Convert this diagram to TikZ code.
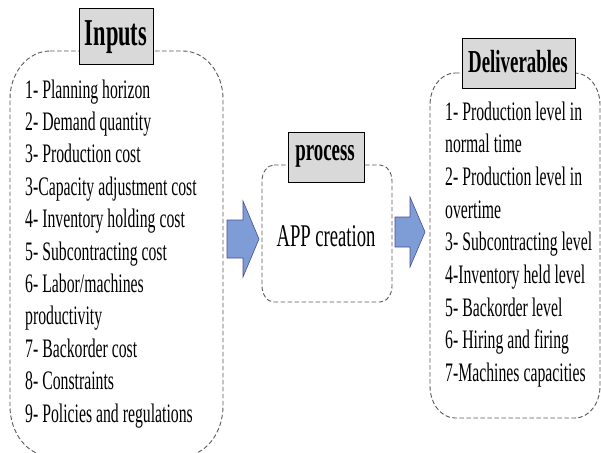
\documentclass[tikz,border=0pt]{standalone}
\usepackage{fontspec}
\setmainfont{Liberation Serif}[FakeStretch=0.59]
\begin{document}
\begin{tikzpicture}[x=1pt,y=-1pt,
  dashbox/.style={draw=black!65, line width=0.9pt, dash pattern=on 4.5pt off 2.5pt},
  labelbox/.style={draw=black, line width=0.8pt, fill=black!15, inner sep=0pt},
  bigarrow/.style={draw=blue!40!black!70, line width=0.6pt, fill=arrowblue},
  item/.style={inner sep=0pt, anchor=base west, font=\fontsize{26.7}{32}\selectfont},
  lab/.style={inner sep=0pt, font=\bfseries\fontsize{32}{34}\selectfont}]
\definecolor{arrowblue}{RGB}{126,157,214}
\useasboundingbox (0,0) rectangle (601,452);
\clip (0,0) rectangle (601,452);
% Inputs dashed box (x 10..223, y 51..456), rx 40, ry 48
\draw[dashbox] (50,51) -- (183,51)
  .. controls (205.1,51) and (223,72.5) .. (223,99)
  -- (223,406)
  .. controls (223,433.6) and (205.1,456) .. (183,456)
  -- (50,456)
  .. controls (27.9,456) and (10,433.6) .. (10,406)
  -- (10,99)
  .. controls (10,72.5) and (27.9,51) .. (50,51) -- cycle;
% Process dashed box (x 262..392, y 165..302), rx 12, ry 16
\draw[dashbox] (274,165) -- (380,165)
  .. controls (386.6,165) and (392,172.2) .. (392,181)
  -- (392,286)
  .. controls (392,294.8) and (386.6,302) .. (380,302)
  -- (274,302)
  .. controls (267.4,302) and (262,294.8) .. (262,286)
  -- (262,181)
  .. controls (262,172.2) and (267.4,165) .. (274,165) -- cycle;
% Deliverables dashed box (x 430..600, y 73..418), rx 25, ry 32
\draw[dashbox] (455,73) -- (575,73)
  .. controls (588.8,73) and (600,87.3) .. (600,105)
  -- (600,386)
  .. controls (600,403.7) and (588.8,418) .. (575,418)
  -- (455,418)
  .. controls (441.2,418) and (430,403.7) .. (430,386)
  -- (430,105)
  .. controls (430,87.3) and (441.2,73) .. (455,73) -- cycle;
% label boxes
\node[labelbox, minimum width=74pt, minimum height=56pt] (inlab) at (116,36) {};
\node[lab, font=\bfseries\fontsize{38}{40}\selectfont] (intext) at (116,37) {Inputs};
\node[labelbox, minimum width=76pt, minimum height=50pt] (prlab) at (326,157) {};
\node[lab] (prtext) at (325,156) {process};
\node[labelbox, minimum width=113pt, minimum height=50pt] (dlab) at (518.5,63) {};
\node[lab] (dtext) at (518,62) {Deliverables};
% process text
\node[inner sep=0pt, font=\fontsize{31.6}{34}\selectfont] (app) at (326,236) {APP creation};
% arrows
\draw[bigarrow] (227,220) -- (243,220) -- (243,201) -- (259,239) -- (243,277) -- (243,258) -- (227,258) -- cycle;
\draw[bigarrow] (395,217) -- (410,217) -- (410,197) -- (425,232) -- (410,267) -- (410,247) -- (395,247) -- cycle;
% Inputs items
\node[item] (i1) at (25,98) {1- Planning horizon};
\node[item] (i2) at (25,130.4) {2- Demand quantity};
\node[item] (i3) at (25,162.8) {3- Production cost};
\node[item] (i4) at (25,195.2) {3-Capacity adjustment cost};
\node[item] (i5) at (25,227.6) {4- Inventory holding cost};
\node[item] (i6) at (25,260) {5- Subcontracting cost};
\node[item] (i7) at (25,292.4) {6- Labor/machines};
\node[item] (i8) at (25,324.8) {productivity};
\node[item] (i9) at (25,357.2) {7- Backorder cost};
\node[item] (i10) at (25,389.6) {8- Constraints};
\node[item] (i11) at (25,422) {9- Policies and regulations};
% Deliverables items
\node[item] (d1) at (445,120) {1- Production level in};
\node[item] (d2) at (445,152.7) {normal time};
\node[item] (d3) at (445,185.4) {2- Production level in};
\node[item] (d4) at (445,218.1) {overtime};
\node[item] (d5) at (445,250.8) {3- Subcontracting level};
\node[item] (d6) at (445,283.5) {4-Inventory held level};
\node[item] (d7) at (445,316.2) {5- Backorder level};
\node[item] (d8) at (445,348.9) {6- Hiring and firing};
\node[item] (d9) at (445,381.6) {7-Machines capacities};
\end{tikzpicture}
\end{document}
